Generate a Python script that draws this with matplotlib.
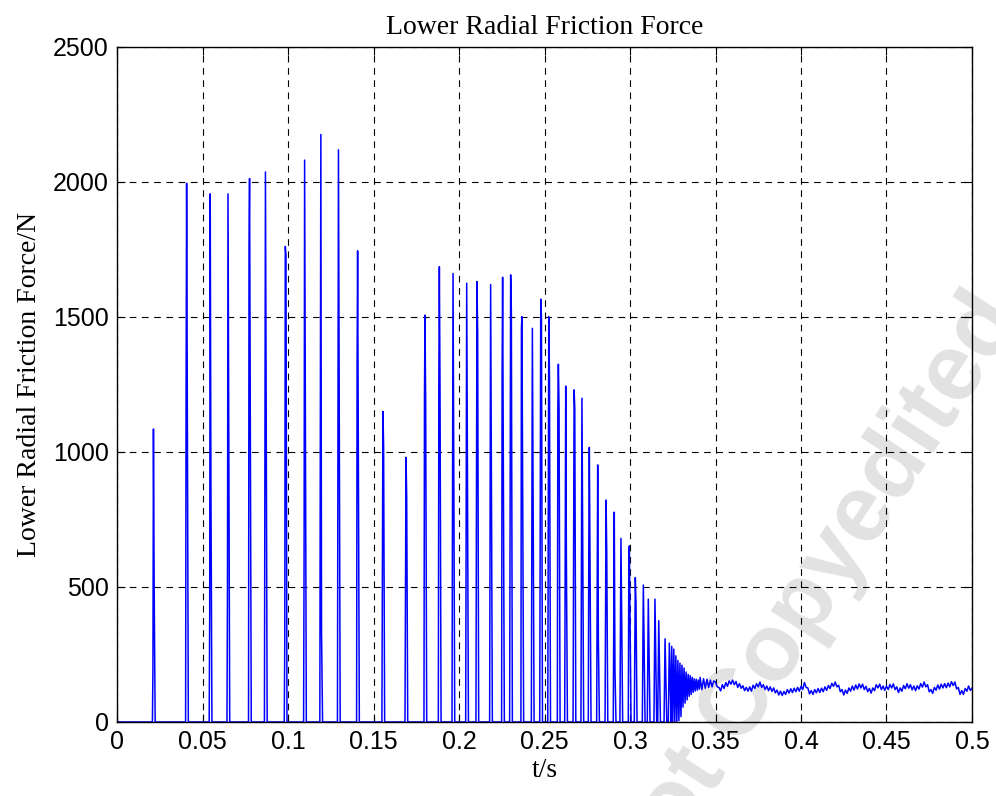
import numpy as np
import matplotlib
matplotlib.use("Agg")
from matplotlib import pyplot as plt

# spikes: peak time / s, peak force / N, knee on rising side, knee on falling side (0 = none)
spike_t = [0.0213, 0.0407, 0.0545, 0.0649, 0.0775, 0.0868, 0.0984, 0.1097, 0.1192, 0.1295,
           0.1407, 0.1555, 0.1690, 0.1801, 0.1885, 0.1965, 0.2045, 0.2105, 0.2185, 0.2255,
           0.2302, 0.2368, 0.2429, 0.2478, 0.2525, 0.2581, 0.2624, 0.2673, 0.2719, 0.2762,
           0.2811, 0.2860, 0.2908, 0.2947, 0.2996, 0.3031, 0.3078, 0.3107, 0.3146, 0.3168,
           0.3205, 0.3230]
spike_peak = [1085, 1995, 1956, 1956, 2013, 2037, 1761, 2081, 2176, 2119,
              1745, 1150, 980, 1507, 1686, 1661, 1625, 1631, 1620, 1647,
              1656, 1501, 1458, 1566, 1501, 1325, 1244, 1230, 1199, 1017,
              952, 822, 777, 680, 652, 535, 507, 455, 455, 375,
              308, 292]
spike_rise = [200, 1270, 410, 520, 1760, 0, 300, 620, 0, 0,
              1340, 0, 0, 1200, 1250, 920, 910, 0, 900, 1280,
              0, 1460, 0, 0, 0, 1170, 0, 0, 0, 640,
              0, 0, 0, 0, 590, 0, 0, 0, 0, 0,
              0, 0]
spike_fall = [520, 0, 900, 0, 0, 0, 1730, 0, 330, 0,
              0, 1020, 834, 1180, 1220, 0, 0, 1440, 0, 0,
              1526, 0, 0, 1500, 1270, 1168, 600, 1163, 0, 0,
              304, 626, 193, 0, 0, 440, 0, 0, 0, 0,
              0, 0]

# damped oscillation after the last spike
osc_t = [0.3238, 0.3244, 0.3250, 0.3256, 0.3262, 0.3268, 0.3274, 0.3280, 0.3286, 0.3292,
         0.3298, 0.3304, 0.3310, 0.3316, 0.3322, 0.3328, 0.3334, 0.3340, 0.3346, 0.3352,
         0.3358, 0.3364, 0.3370, 0.3376, 0.3382, 0.3388, 0.3394, 0.3400, 0.3406]
osc_f = [0, 280, 0, 270, 0, 245, 0, 228, 5, 218,
         20, 210, 55, 200, 70, 185, 82, 176, 95, 172,
         102, 165, 110, 160, 115, 158, 118, 155, 122]

# steady tail, one value per ms from 0.341 s to 0.500 s
tail_t0 = 0.341
tail_f = [165, 120, 160, 125, 158, 128, 155, 130, 152,
          148, 130, 128, 115, 138, 124, 146, 132, 152, 140,
          155, 138, 150, 128, 142, 125, 134, 116, 128, 114,
          130, 114, 136, 124, 142, 130, 148, 128, 138, 120,
          133, 116, 130, 113, 126, 108, 118, 100, 114, 98,
          113, 102, 120, 107, 123, 109, 125, 112, 128, 114,
          132, 120, 146, 128, 126, 104, 116, 102, 120, 108,
          124, 109, 125, 112, 130, 117, 135, 124, 143, 132,
          148, 130, 136, 112, 120, 100, 118, 106, 126, 114,
          133, 118, 137, 122, 141, 126, 140, 120, 132, 112,
          124, 107, 126, 116, 138, 126, 140, 120, 133, 117,
          133, 120, 139, 126, 141, 120, 130, 109, 126, 114,
          135, 123, 142, 125, 138, 119, 133, 116, 134, 122,
          142, 129, 148, 130, 138, 112, 120, 106, 128, 118,
          137, 122, 140, 126, 142, 127, 144, 130, 149, 135,
          148, 122, 128, 102, 116, 102, 124, 114, 133, 117,
          125]

x_ticks = [0, 0.05, 0.1, 0.15, 0.2, 0.25, 0.3, 0.35, 0.4, 0.45, 0.5]
x_ticklabels = ['0', '0.05', '0.1', '0.15', '0.2', '0.25', '0.3', '0.35', '0.4', '0.45', '0.5']
y_ticks = [0, 500, 1000, 1500, 2000, 2500]


def build_signal():
    """joins spikes, oscillation and tail into one polyline"""
    t, f = [0.0], [0.0]
    for k in range(len(spike_t)):
        tp = spike_t[k]
        t.append(tp - 0.0006); f.append(0)
        if spike_rise[k]:
            t.append(tp - 0.0003); f.append(spike_rise[k])
        t.append(tp); f.append(spike_peak[k])
        if spike_fall[k]:
            t.append(tp + 0.0004); f.append(spike_fall[k])
        t.append(tp + 0.0010); f.append(0)
    t += osc_t
    f += osc_f
    t += list(tail_t0 + 0.001*np.arange(len(tail_f)))
    f += tail_f
    return np.array(t), np.array(f)


time, force = build_signal()

plt.rcParams['font.family'] = 'Liberation Sans'
fig = plt.figure(figsize=(9.96, 7.96), dpi=100)
ax = fig.add_axes([0.1175, 0.093, 0.8584, 0.848])

ax.plot(time, force, color='#0000ff', lw=1.1, zorder=2)

ax.set_xlim(0, 0.5)
ax.set_ylim(0, 2500)
ax.set_xticks(x_ticks)
ax.set_xticklabels(x_ticklabels)
ax.set_yticks(y_ticks)
ax.tick_params(direction='in', top=True, right=True, length=6, width=0.8, labelsize=18, pad=6)
ax.grid(True, color='black', linestyle=(0, (6, 5)), linewidth=0.8)
for s in ax.spines.values():
    s.set_linewidth(1.0)

serif = 'Liberation Serif'
ax.set_title('Lower Radial Friction Force', family=serif, fontsize=20, pad=9)
ax.set_xlabel('t/s', family=serif, fontsize=20, labelpad=3)
ax.set_ylabel('Lower Radial Friction Force/N', family=serif, fontsize=20, labelpad=8)

# faint watermark, partly off the page as in the source
ax.text(0.814, 0.25, 'Not Copyedited', transform=fig.transFigure, rotation=57,
        ha='center', va='center', fontsize=68, fontweight='bold', color='#e2e2e2',
        zorder=0.5, clip_on=False)

fig.savefig('out.png', dpi=100)
